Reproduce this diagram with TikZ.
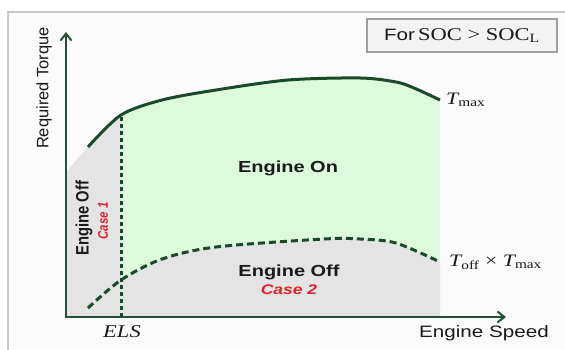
\documentclass[tikz,border=0pt]{standalone}
\usepackage{fontspec}
\setmainfont{Liberation Serif}
\setsansfont{Liberation Sans}
\usepackage{graphicx}
\usetikzlibrary{arrows.meta}

\definecolor{axiscol}{HTML}{245238}
\definecolor{curvecol}{HTML}{1B4A2B}
\definecolor{oncol}{HTML}{DDFADD}
\definecolor{offcol}{HTML}{E4E4E4}
\definecolor{casecol}{HTML}{E3202A}
\definecolor{textcol}{HTML}{1A1A1A}
\definecolor{framecol}{HTML}{C8C8C8}
\definecolor{boxcol}{HTML}{F3F3F3}

% text in the slide is a bit wider (horizontal) / narrower (vertical)
\newcommand{\hstretch}[1]{\scalebox{1.25}[1]{#1}}
\newcommand{\vsquash}[1]{\scalebox{0.82}[1]{#1}}

\begin{document}
\begin{tikzpicture}[x=1pt,y=-1pt,
  axis/.style={draw=axiscol,line width=2pt,{Straight Barb[length=7pt,width=11pt]}-{Straight Barb[length=7pt,width=11pt]}},
  tmaxline/.style={draw=curvecol,line width=3pt},
  toffline/.style={draw=curvecol,line width=3pt,dash pattern=on 7pt off 4pt},
  elsline/.style={draw=curvecol,line width=3pt,dash pattern=on 4pt off 3pt},
  zonelabel/.style={font=\sffamily\bfseries\fontsize{16}{18}\selectfont,text=textcol},
  caselabel/.style={font=\sffamily\bfseries\itshape\fontsize{14}{16}\selectfont,text=casecol},
  curvelabel/.style={font=\fontsize{17.5}{20}\selectfont,text=textcol,anchor=west,inner sep=0pt}]
\useasboundingbox (0,0) rectangle (565,350);
% slide frame
\fill[white] (0,0) rectangle (565,350);
\fill[fill=black!1.5] (8,12) rectangle (570,355);
\draw[framecol,line width=1.5pt] (8,355) -- (8,12) -- (570,12);

% regions
\begin{scope}
\clip (121,60) rectangle (440,317);
\fill[oncol] plot[smooth] coordinates {(88,147) (121,115) (162,100) (216,90) (288,80) (360,78) (396,82) (414,88) (440,100)} -- (440,317) -- (88,317) -- cycle;
\fill[offcol] plot[smooth] coordinates {(88,308) (121,280) (162,259) (216,247) (324,239) (360,239) (396,243) (440,262)} -- (440,317) -- (88,317) -- cycle;
\end{scope}
\begin{scope}
\clip (66,60) rectangle (121,317);
\fill[offcol] (66,317) -- (66,172) -- plot[smooth] coordinates {(88,147) (121,115) (162,100) (216,90)} -- (216,317) -- cycle;
\end{scope}

% curves
\draw[tmaxline] plot[smooth] coordinates {(88,147) (121,115) (162,100) (216,90) (288,80) (360,78) (396,82) (414,88) (440,100)};
\draw[toffline] plot[smooth] coordinates {(88,308) (121,280) (162,259) (216,247) (324,239) (360,239) (396,243) (440,262)};

\coordinate (origin) at (66,317);
\coordinate (xend) at (506,317);
\coordinate (yend) at (66,32);
\coordinate (elsbot) at (121,317);
\coordinate (elstop) at (121,115);
\coordinate (tmaxend) at (440,100);
\coordinate (toffend) at (440,262);

\draw [elsline] (elsbot) to (elstop);
\draw [axis] (yend) -- (origin) -- (xend);

% labels
\path (44,88) node (torque) [rotate=90,font=\sffamily\fontsize{16.5}{18}\selectfont,text=textcol] {Required Torque};
\path (484,333) node (speed) [font=\sffamily\fontsize{16.5}{18}\selectfont,text=textcol] {\hstretch{Engine Speed}};
\path (122,332) node (els) [font=\itshape\fontsize{18}{20}\selectfont,text=textcol] {\hstretch{ELS}};
\path (288,168) node (on) [zonelabel] {\hstretch{Engine On}};
\path (289,272) node (off2) [zonelabel] {\hstretch{Engine Off}};
\path (289,290) node (case2) [caselabel] {\hstretch{Case 2}};
\path (84,218) node (off1) [rotate=90,font=\sffamily\bfseries\fontsize{18}{20}\selectfont,text=textcol] {\vsquash{Engine Off}};
\path (103,221) node (case1) [rotate=90,caselabel] {\vsquash{Case 1}};
\path ([xshift=6pt]tmaxend) node (tmax) [curvelabel] {\hstretch{\itshape T\textsubscript{\upshape max}}};
\path ([xshift=9pt]toffend) node (toff) [curvelabel] {\hstretch{{\itshape T}\textsubscript{off} × {\itshape T}\textsubscript{max}}};
\path (462,35.5) node (socbox) [draw=black!38,line width=1.5pt,fill=boxcol,minimum width=190pt,minimum height=33pt,text=textcol] {\hstretch{{\sffamily\fontsize{16.5}{18}\selectfont For} {\fontsize{18}{20}\selectfont SOC > SOC\textsubscript{L}}}};
\end{tikzpicture}
\end{document}
